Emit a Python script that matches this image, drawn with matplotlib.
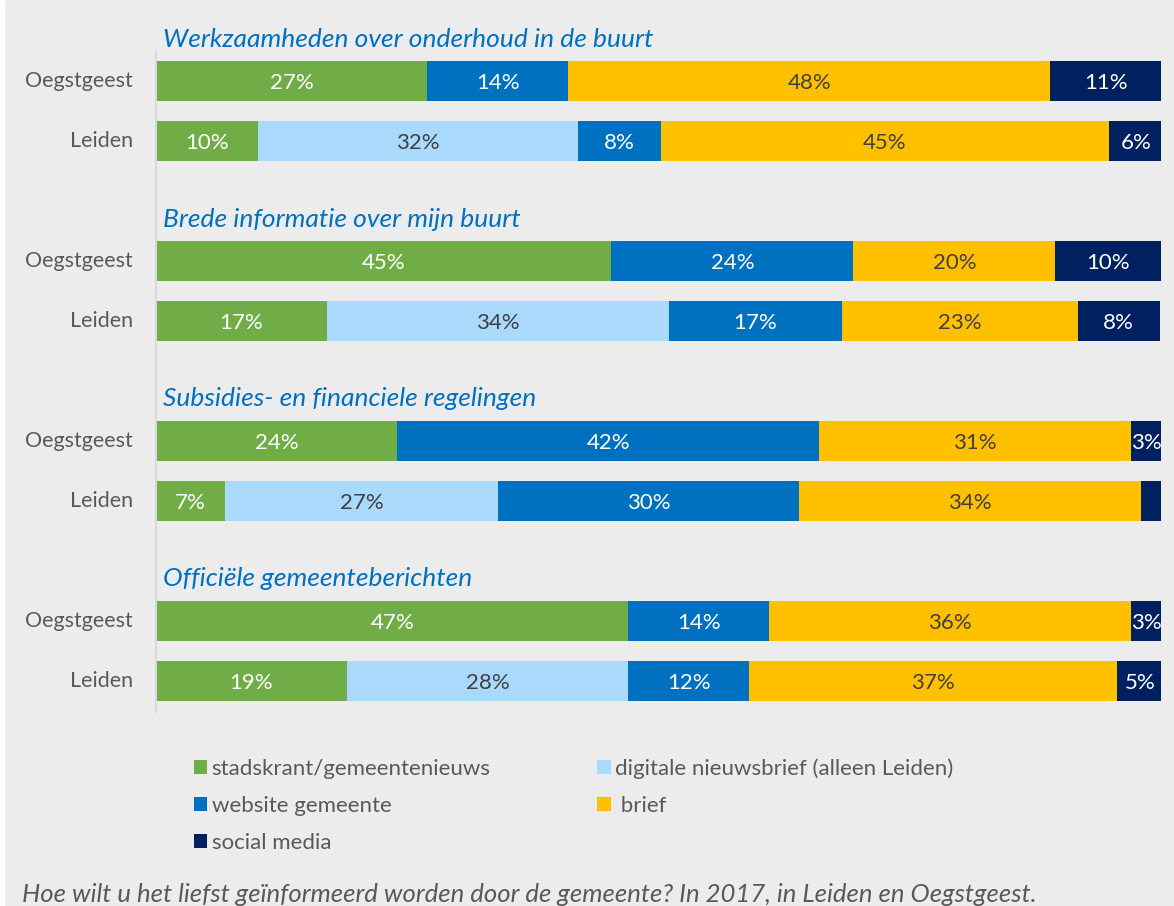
import matplotlib.pyplot as plt
from matplotlib.patches import Rectangle

plt.rcParams['font.family'] = ['Lato', 'DejaVu Sans']

# onderwerpen en plaatsen
topics = ['Werkzaamheden over onderhoud in de buurt',
          'Brede informatie over mijn buurt',
          'Subsidies- en financiele regelingen',
          'Officiële gemeenteberichten']
places = ['Oegstgeest', 'Leiden']

# percentages per rij: (onderwerp 1 Oegstgeest, onderwerp 1 Leiden, ...)
stadskrant = [27, 10.1, 45.3, 17.0, 24, 6.9, 47, 19]
digitaal = [0, 31.9, 0, 34.0, 0, 27.1, 0, 28]
website = [14, 8.2, 24.1, 17.3, 42, 30.0, 14, 12]
brief = [48, 44.6, 20.1, 23.4, 31, 34.0, 36, 36.6]
social = [11, 5.5, 10.5, 8.2, 3, 2.0, 3, 4.6]

series = [stadskrant, digitaal, website, brief, social]
names = ['stadskrant/gemeentenieuws', 'digitale nieuwsbrief (alleen Leiden)',
         'website gemeente', ' brief', 'social media']
colors = ['#70ad47', '#a9d9fb', '#0070c0', '#ffc000', '#002060']
txtcol = ['white', '#404040', 'white', '#404040', 'white']

W, H = 1174, 906
fig = plt.figure(figsize=(W / 100, H / 100), dpi=100, facecolor='#ececec')
fig.patches.append(Rectangle((0, 0), 4 / W, 1, transform=fig.transFigure,
                             color='white', zorder=-1))

ax = fig.add_axes([156 / W, 1 - 712 / H, (1161 - 156) / W, (712 - 50) / H])
ax.set_facecolor('#ececec')

ypos = []
for g in range(len(topics)):
    ypos += [3 * g, 3 * g + 1]

left = [0] * len(ypos)
for vals, col, tc, name in zip(series, colors, txtcol, names):
    ax.barh(ypos, vals, left=left, height=0.667, color=col, label=name)
    for y, l, v in zip(ypos, left, vals):
        if v >= 2.5:
            ax.text(l + v / 2, y + 0.03, f'{v:.0f}%', ha='center', va='center',
                    color=tc, fontsize=16)
    left = [a + b for a, b in zip(left, vals)]

for g, t in enumerate(topics):
    ax.text(0.7, 3 * g - 0.7, t, ha='left', va='center', fontsize=19,
            style='italic', color='#0070c0', clip_on=False)
    for k, p in enumerate(places):
        ax.text(-2.3, 3 * g + k, p, ha='right', va='center', fontsize=15.5,
                color='#595959', clip_on=False)

ax.set_xlim(0, 100)
ax.set_ylim(10.517, -0.517)
ax.set_xticks([])
ax.set_yticks([])
for s in ['top', 'right', 'bottom']:
    ax.spines[s].set_visible(False)
ax.spines['left'].set_color('#d9d9d9')
ax.spines['left'].set_linewidth(1.5)

handles, labels = ax.get_legend_handles_labels()
order = [0, 2, 4, 1, 3]
fig.legend([handles[i] for i in order], [labels[i] for i in order],
           ncol=2, loc='upper left', bbox_to_anchor=(174 / W, 1 - 738 / H),
           frameon=False, fontsize=16, labelcolor='#595959',
           handlelength=0.6, handleheight=0.6, handletextpad=0.2,
           columnspacing=4.8, labelspacing=0.78)

fig.text(22 / W, 1 - 895 / H,
         'Hoe wilt u het liefst geïnformeerd worden door de gemeente? In 2017, in Leiden en Oegstgeest.',
         ha='left', va='center', fontsize=18.5, style='italic', color='#595959')

fig.savefig('out.png', dpi=100, facecolor=fig.get_facecolor())
